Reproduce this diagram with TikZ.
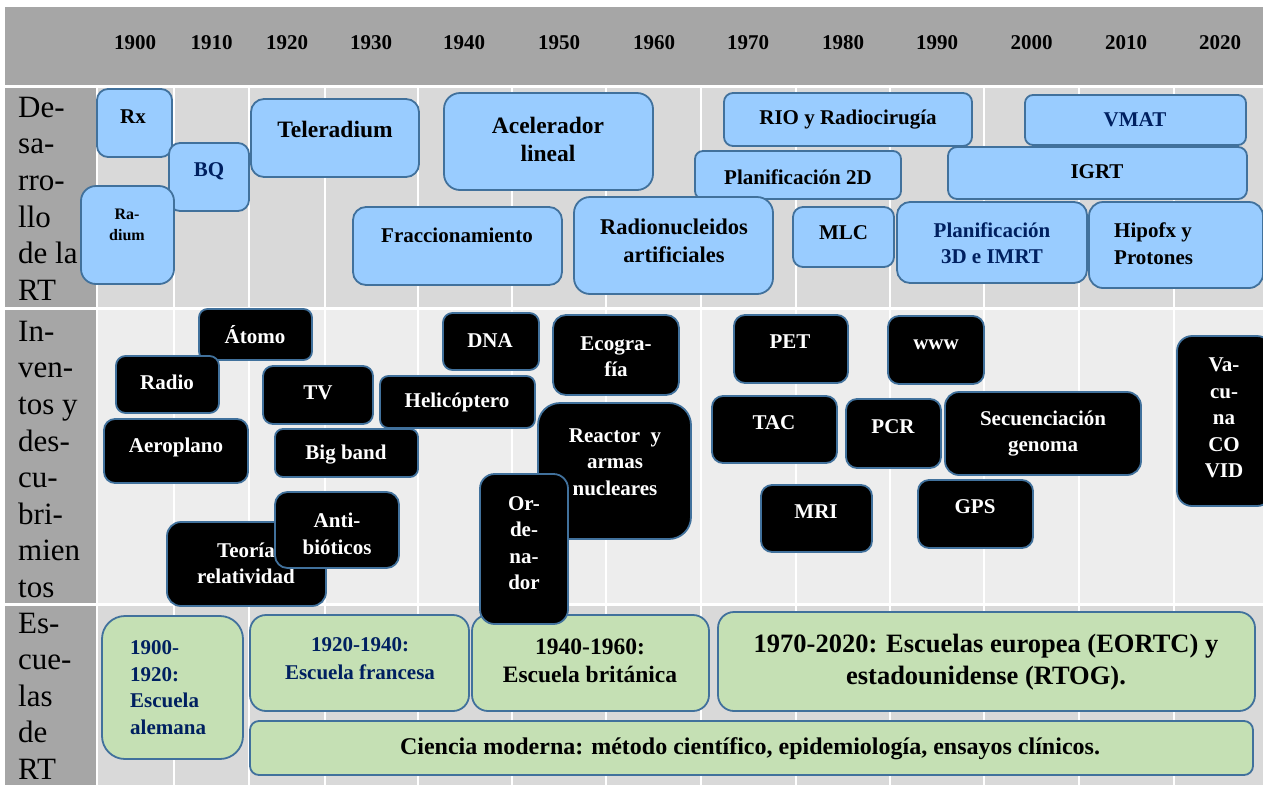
\documentclass[tikz,border=0pt]{standalone}
\usepackage{fontspec}
\setmainfont{Liberation Serif}
\usetikzlibrary{fit}
\definecolor{hdr}{HTML}{A6A6A6}
\definecolor{rowa}{HTML}{D9D9D9}
\definecolor{rowb}{HTML}{EDEDED}
\definecolor{bluef}{HTML}{99CCFF}
\definecolor{greenf}{HTML}{C5E0B4}
\definecolor{edgec}{HTML}{41719C}
\definecolor{navy}{HTML}{002060}
\tikzset{
 boxbase/.style={draw=edgec, line width=1.8pt, inner sep=0pt, outer sep=0pt},
 bluebox/.style={boxbase, fill=bluef},
 greenbox/.style={boxbase, fill=greenf},
 blackbox/.style={boxbase, fill=black},
 fs/.style 2 args={font=\fontsize{#1}{#2}\selectfont\bfseries},
 txt/.style={inner sep=0pt, align=center, fs={21}{26.5}},
 wtxt/.style={txt, text=white},
 ntxt/.style={txt, text=navy},
 year/.style={inner sep=0pt, fs={21}{25}},
 rowlabel/.style={anchor=north west, inner sep=0pt, align=left, font=\fontsize{31}{36.6}\selectfont},
}
\newcommand{\tlbox}[7]{\node[#1, rounded corners=#7pt, fit={(#3,#4) (#5,#6)}] (#2) {};}
\begin{document}
\begin{tikzpicture}[x=1pt,y=-1pt]
\useasboundingbox (0,0) rectangle (1263,785);
\fill[white] (0,0) rectangle (1263,785);
% table background
\fill[hdr] (5,7) rectangle (1263,85);
\fill[hdr] (5,88) rectangle (96,307);
\fill[hdr] (5,310) rectangle (96,603);
\fill[hdr] (5,606) rectangle (96,785);
\fill[rowa] (98,88) rectangle (1263,307);
\fill[rowb] (98,310) rectangle (1263,603);
\fill[rowa] (98,606) rectangle (1263,785);
\foreach \x in {174,249,325,418,512,606,701,796,890,984,1079,1174}
  \draw[white, line width=2pt] (\x,86) -- (\x,785);
% years
\foreach \yr/\x in {1900/135,1910/211.5,1920/287,1930/371,1940/464,1950/559,1960/654,1970/748,1980/843,1990/937,2000/1031.5,2010/1126,2020/1220}
  \node[year] (y\yr) at (\x,43) {\yr};
% row labels
\node[rowlabel] (lab1) at (18,96.7) {De-\\sa-\\rro-\\llo\\de la\\RT};
\node[rowlabel] (lab2) at (18,320.7) {In-\\ven-\\tos y\\des-\\cu-\\bri-\\mien\\tos};
\node[rowlabel] (lab3) at (18,612.5) {Es-\\cue-\\las\\de\\RT};
% row 1
\tlbox{bluebox}{rx}{97}{89}{172}{157}{11}
\tlbox{bluebox}{bq}{169}{143}{249}{211}{11}
\tlbox{bluebox}{radium}{81}{186}{174}{284}{15}
\tlbox{bluebox}{telerad}{251}{99}{419}{177}{13}
\tlbox{bluebox}{fracc}{353}{207}{562}{285}{13}
\tlbox{bluebox}{linac}{444}{93}{653}{190}{16}
\tlbox{bluebox}{plan2d}{695}{151}{901}{199}{8}
\tlbox{bluebox}{radnuc}{574}{197}{773}{294}{16}
\tlbox{bluebox}{rio}{724}{93}{972}{146}{9}
\tlbox{bluebox}{mlc}{793}{207}{894}{267}{10}
\tlbox{bluebox}{vmat}{1025}{95}{1246}{145}{8}
\tlbox{bluebox}{igrt}{948}{147}{1247}{199}{9}
\tlbox{bluebox}{plan3d}{897}{202}{1087}{283}{13}
\tlbox{bluebox}{hipo}{1089}{202}{1263}{288}{14}
\node[txt] (rx-t) at (133,117) {Rx};
\node[ntxt] (bq-t) at (209,171) {BQ};
\node[txt, fs={16}{21}] (radium-t) at (127,224.5) {Ra-\\dium};
\node[txt, fs={23.5}{28}] (telerad-t) at (335,129) {Teleradium};
\node[txt] (fracc-t) at (457,235) {Fraccionamiento};
\node[txt, fs={23.5}{28}] (linac-t) at (548,139) {Acelerador\\lineal};
\node[txt, fs={22.5}{28}] (radnuc-t) at (674,241) {Radionucleidos\\artificiales};
\node[txt] (rio-t) at (848,120) {RIO y Radiocirugía};
\node[txt] (plan2d-t) at (798,177) {Planificación 2D};
\node[txt] (mlc-t) at (843.5,233) {MLC};
\node[ntxt] (vmat-t) at (1135,120) {VMAT};
\node[txt] (igrt-t) at (1097,172) {IGRT};
\node[ntxt] (plan3d-t) at (992,243) {Planificación\\3D e IMRT};
\node[txt, anchor=west, align=left] (hipo-t) at (1114,243.5) {Hipofx y\\Protones};
% row 3
\tlbox{greenbox}{alem}{102}{616}{243}{759}{23}
\tlbox{greenbox}{franc}{250}{615}{469}{711}{16}
\tlbox{greenbox}{brit}{472}{615}{709}{711}{16}
\tlbox{greenbox}{eortc}{718}{612}{1255}{711}{16}
\tlbox{greenbox}{ciencia}{250}{721}{1253}{775}{9}
\node[ntxt, anchor=west, align=left] (alem-t) at (130,687.5) {1900-\\1920:\\Escuela\\alemana};
\node[ntxt, fs={21}{28.5}] (franc-t) at (360,658.5) {1920-1940:\\Escuela francesa};
\node[txt, fs={23.5}{28}] (brit-t) at (590,661) {1940-1960:\\Escuela británica};
\node[txt, fs={26.5}{32}] (eortc-t) at (986,662) {1970-2020: Escuelas europea (EORTC) y\\estadounidense (RTOG).};
\node[txt, fs={24}{28}] (ciencia-t) at (750,749) {Ciencia moderna: método científico, epidemiología, ensayos clínicos.};
% row 2
\tlbox{blackbox}{atomo}{199}{309}{312}{360}{8.5}
\tlbox{blackbox}{radio}{116}{356}{219}{413}{9.5}
\tlbox{blackbox}{tv}{263}{366}{373}{424}{10}
\tlbox{blackbox}{aero}{104}{419}{248}{483}{11}
\tlbox{blackbox}{bigband}{275}{429}{418}{477}{8}
\tlbox{blackbox}{teoria}{167}{522}{326}{606}{14}
\node[wtxt] (teoria-t) at (246,563.5) {Teoría\\relatividad};
\tlbox{blackbox}{antib}{275}{492}{399}{568}{12.5}
\tlbox{blackbox}{heli}{380}{376}{535}{428}{8.5}
\tlbox{blackbox}{dna}{443}{313}{539}{370}{9.5}
\tlbox{blackbox}{ecog}{553}{315}{679}{395}{13}
\tlbox{blackbox}{reactor}{538}{403}{691}{539}{22}
\node[wtxt] (reactor-t) at (615,462) {Reactor~ y\\armas\\nucleares};
\tlbox{blackbox}{orden}{480}{474}{568}{624}{14.5}
\tlbox{blackbox}{pet}{734}{315}{848}{383}{11}
\tlbox{blackbox}{tac}{712}{396}{837}{463}{11}
\tlbox{blackbox}{mri}{761}{485}{872}{552}{11}
\tlbox{blackbox}{www}{888}{316}{984}{384}{11}
\tlbox{blackbox}{pcr}{846}{399}{941}{468}{11}
\tlbox{blackbox}{secu}{945}{392}{1141}{475}{14}
\tlbox{blackbox}{gps}{918}{480}{1033}{548}{11}
\tlbox{blackbox}{vacuna}{1177}{336}{1272}{506}{15}
\node[wtxt] (atomo-t) at (255,335) {Átomo};
\node[wtxt] (radio-t) at (167,382) {Radio};
\node[wtxt] (tv-t) at (318,393) {TV};
\node[wtxt] (aero-t) at (176,447) {Aeroplano};
\node[wtxt] (bigband-t) at (346,455) {Big band};
\node[wtxt] (antib-t) at (337,534) {Anti-\\bióticos};
\node[wtxt] (heli-t) at (457,402) {Helicóptero};
\node[wtxt] (dna-t) at (490,341) {DNA};
\node[wtxt] (ecog-t) at (616,356.5) {Ecogra-\\fía};
\node[wtxt] (orden-t) at (524,543) {Or-\\de-\\na-\\dor};
\node[wtxt] (pet-t) at (790,342) {PET};
\node[wtxt] (tac-t) at (774,423) {TAC};
\node[wtxt] (mri-t) at (816,512) {MRI};
\node[wtxt] (www-t) at (936,345) {www};
\node[wtxt] (pcr-t) at (893,427) {PCR};
\node[wtxt] (secu-t) at (1043,433.5) {Secuenciación\\genoma};
\node[wtxt] (gps-t) at (975,507) {GPS};
\node[wtxt] (vacuna-t) at (1224,418) {Va-\\cu-\\na\\CO\\VID};
\end{tikzpicture}
\end{document}
